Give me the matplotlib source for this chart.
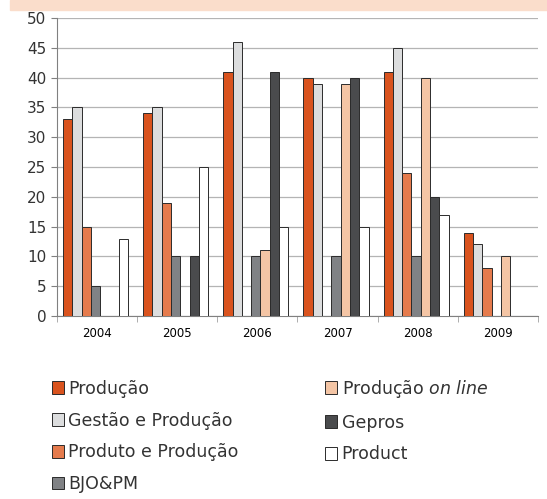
import matplotlib.pyplot as plt
import numpy as np
from matplotlib.patches import Rectangle

# Dados
anos = ["2004", "2005", "2006", "2007", "2008", "2009"]
series = ["Produção", "Gestão e Produção", "Produto e Produção", "BJO&PM",
          "Produção $\\it{on\\ line}$", "Gepros", "Product"]
producao = [33, 34, 41, 40, 41, 14]
gestao_producao = [35, 35, 46, 39, 45, 12]
produto_producao = [15, 19, 0, 0, 24, 8]
bjo_pm = [5, 10, 10, 10, 10, 0]
producao_online = [0, 0, 11, 39, 40, 10]
gepros = [0, 10, 41, 40, 20, 0]
product = [13, 25, 15, 15, 17, 0]
valores = [producao, gestao_producao, produto_producao, bjo_pm,
           producao_online, gepros, product]
cores = ["#D9531E", "#DCDDDE", "#E57B4D", "#808285", "#F4C5A5", "#4A4B4D", "#FFFFFF"]

fig = plt.figure(figsize=(5.47, 4.99), dpi=100)
fig.patches.append(Rectangle((10 / 547, 1 - 10 / 499), 1, 10 / 499,
                             transform=fig.transFigure, color="#FADDCB", zorder=0))
ax = fig.add_axes([57 / 547, 1 - 316 / 499, 481 / 547, 298 / 499])

x = np.arange(len(anos))
largura = 0.116
for i, (nome, vals, cor) in enumerate(zip(series, valores, cores)):
    pos = x + (i - 3) * largura - 0.02
    ax.bar(pos, vals, largura, color=cor, edgecolor="#2b2b2b", linewidth=0.7,
           label=nome, zorder=3)

ax.set_xlim(-0.5, len(anos) - 0.5)
ax.set_ylim(0, 50)
ax.set_yticks(range(0, 51, 5))
ax.tick_params(axis="y", labelsize=11, length=4, color="#808080", colors="#333333")
ax.set_xticks(x)
ax.set_xticklabels(anos, fontsize=8.5)
ax.set_xticks(np.arange(-0.5, len(anos), 1), minor=True)
ax.tick_params(axis="x", which="major", length=0, pad=8)
ax.tick_params(axis="x", which="minor", length=4, color="#A0A0A0")
ax.yaxis.grid(True, color="#B4B4B4", linewidth=0.9)
ax.set_axisbelow(True)
for s in ["top", "right"]:
    ax.spines[s].set_visible(False)
ax.spines["left"].set_color("#808080")
ax.spines["bottom"].set_color("#808080")

h, l = ax.get_legend_handles_labels()
fig.legend(h, l, ncol=2, loc="upper left", bbox_to_anchor=(36 / 547, 1 - 362 / 499),
           frameon=False, fontsize=12.5, handlelength=0.72, handleheight=0.72,
           handletextpad=0.25, columnspacing=4.95, labelspacing=0.8,
           labelcolor="#333333")

plt.savefig("out.png", dpi=100)
